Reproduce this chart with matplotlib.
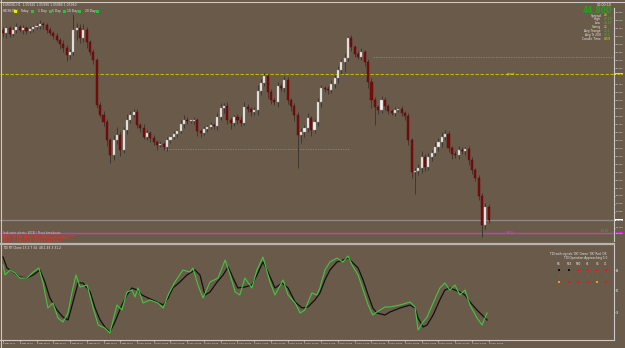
import numpy as np
import matplotlib.pyplot as plt
from matplotlib.lines import Line2D
from matplotlib.patches import Rectangle

W, H = 625, 348
BG = "#6a5a4a"

# hourly candles: closes, wick sizes in ticks of 0.01
closes = [
    46.67, 46.72, 46.66, 46.70, 46.73, 46.70, 46.72, 46.69, 46.71, 46.73,
    46.74, 46.76, 46.75, 46.70, 46.67, 46.64, 46.60, 46.56, 46.52, 46.45,
    46.48, 46.70, 46.72, 46.62, 46.70, 46.58, 46.48, 46.40, 45.95, 45.85,
    45.78, 45.60, 45.45, 45.60, 45.65, 45.50, 45.70, 45.80, 45.85, 45.88,
    45.75, 45.72, 45.63, 45.67, 45.62, 45.58, 45.55, 45.56, 45.53, 45.60,
    45.63, 45.66, 45.69, 45.76, 45.80, 45.79, 45.79, 45.80, 45.69, 45.67,
    45.71, 45.73, 45.75, 45.74, 45.83, 45.92, 45.94, 45.80, 45.77, 45.83,
    45.80, 45.77, 45.93, 45.91, 45.88, 45.90, 46.09, 46.17, 46.24, 46.08,
    46.00, 45.98, 46.14, 46.12, 46.20, 46.00, 45.94, 45.85, 45.65, 45.68,
    45.72, 45.82, 45.70, 45.78, 45.98, 46.12, 46.11, 46.10, 46.16, 46.22,
    46.30, 46.38, 46.42, 46.62, 46.53, 46.46, 46.43, 46.48, 46.38, 46.18,
    46.00, 45.93, 45.90, 46.00, 45.94, 45.89, 45.87, 45.90, 45.91, 45.87,
    45.84, 45.60, 45.28, 45.29, 45.32, 45.43, 45.33, 45.43, 45.47, 45.53,
    45.58, 45.63, 45.66, 45.52, 45.46, 45.45, 45.50, 45.49, 45.51, 45.40,
    45.30, 45.22, 45.04, 44.75, 44.93, 44.80,
]
first_open = 46.70
wick_up = [
    3, 2, 2, 3, 4, 2, 3, 2, 3, 2,
    3, 4, 2, 2, 3, 2, 3, 2, 4, 3,
    3, 16, 5, 4, 6, 3, 2, 3, 2, 3,
    4, 3, 2, 5, 8, 4, 3, 6, 4, 3,
    3, 2, 4, 3, 2, 3, 2, 3, 2, 3,
    2, 3, 2, 4, 5, 3, 2, 3, 2, 2,
    3, 2, 3, 2, 4, 5, 3, 4, 3, 2,
    3, 4, 5, 3, 2, 3, 6, 4, 3, 2,
    3, 2, 4, 3, 4, 3, 2, 3, 3, 4,
    3, 5, 2, 3, 4, 3, 2, 3, 4, 3,
    4, 3, 5, 2, 3, 2, 3, 4, 2, 3,
    4, 3, 2, 4, 3, 2, 2, 3, 2, 3,
    2, 3, 2, 3, 4, 6, 3, 4, 3, 5,
    4, 5, 4, 3, 2, 3, 4, 3, 2, 3,
    3, 2, 3, 3, 4, 3,
]
wick_dn = [
    4, 5, 3, 2, 3, 2, 4, 3, 2, 3,
    2, 3, 4, 3, 2, 3, 2, 5, 4, 6,
    4, 3, 10, 5, 4, 6, 3, 4, 3, 2,
    4, 6, 8, 5, 4, 6, 3, 4, 3, 2,
    3, 4, 2, 3, 4, 3, 5, 2, 3, 4,
    3, 2, 3, 2, 4, 3, 2, 3, 5, 4,
    2, 3, 2, 3, 4, 3, 5, 4, 6, 3,
    4, 3, 2, 3, 4, 3, 5, 4, 3, 6,
    4, 3, 5, 3, 4, 4, 5, 6, 33, 8,
    5, 4, 6, 3, 4, 5, 3, 4, 3, 4,
    5, 4, 10, 3, 4, 3, 2, 3, 4, 6,
    8, 18, 4, 3, 4, 3, 2, 3, 2, 3,
    4, 5, 6, 22, 4, 5, 4, 3, 4, 3,
    4, 5, 3, 4, 5, 3, 4, 3, 4, 5,
    4, 3, 4, 12, 4, 3,
]

# TDI-style oscillator, read at bar positions
fast_x = [0, 0.6, 2.1, 3.6, 5.1, 7.2, 9.0, 10.7, 11.9, 13.4, 14.9, 16.4, 17.9, 19.4,
          20.6, 21.8, 23.0, 25.1, 26.9, 28.4, 30.4, 31.9, 34.0, 35.5, 37.0, 38.5,
          39.4, 40.3, 41.8, 43.9, 46.3, 47.8, 49.3, 51.3, 53.7, 55.8, 56.7, 58.2,
          59.7, 61.8, 64.2, 66.3, 67.8, 69.3, 70.7, 72.2, 74.3, 75.8, 77.6, 79.7,
          81.2, 83.6, 85.1, 87.2, 88.7, 90.1, 92.2, 93.7, 94.6, 96.1, 97.6, 99.7,
          101.5, 103.0, 104.2, 106.0, 107.5, 109.0, 110.4, 111.6, 114.0, 115.5,
          118.5, 121.5, 123.0, 123.9, 125.4, 126.6, 128.4, 130.4, 131.9, 133.4,
          134.9, 136.4, 137.9, 139.4, 141.5, 143.0, 144.5]
fast_v = [75, 65, 70, 67, 62, 62, 68, 72, 58, 32, 37, 22, 18, 27,
          48, 65, 53, 55, 32, 15, 12, 7, 35, 30, 48, 50,
          43, 52, 37, 40, 37, 32, 45, 58, 70, 68, 72, 55,
          42, 58, 62, 80, 65, 48, 45, 62, 52, 70, 83, 58,
          45, 60, 45, 37, 27, 30, 47, 45, 52, 70, 78, 82,
          78, 84, 75, 65, 50, 35, 25, 28, 33, 33,
          35, 38, 33, 10, 18, 23, 37, 52, 57, 50,
          55, 45, 50, 35, 22, 15, 27]
slow_x = [0, 1.2, 3.0, 5.1, 7.2, 9.0, 11.0, 12.5, 14.0, 16.1, 17.9, 19.4, 20.9,
          22.4, 23.9, 26.0, 27.5, 29.0, 30.4, 31.9, 33.4, 35.5, 37.0, 38.5, 40.0,
          41.5, 43.3, 46.0, 47.8, 49.3, 50.7, 52.8, 54.9, 57.3, 58.8, 60.3, 61.8,
          63.9, 65.7, 67.2, 68.7, 70.1, 72.2, 74.3, 75.8, 77.6, 79.1, 81.2, 83.3,
          85.1, 87.2, 89.3, 91.0, 93.1, 94.6, 96.1, 97.6, 99.7, 101.5, 103.0,
          104.2, 106.0, 107.5, 109.0, 110.4, 111.6, 114.0, 115.5, 118.5, 121.5,
          123.0, 123.9, 125.4, 126.6, 128.4, 130.4, 131.9, 133.4, 134.9, 136.4,
          137.9, 139.4, 141.5, 143.0, 144.5]
slow_v = [83, 72, 68, 63, 62, 65, 70, 58, 42, 30, 23, 20, 38,
          57, 57, 48, 32, 20, 13, 8, 18, 35, 45, 52, 50,
          45, 42, 38, 35, 42, 52, 58, 65, 70, 65, 45, 48,
          58, 65, 73, 62, 52, 53, 55, 65, 78, 68, 52, 57,
          52, 38, 32, 33, 40, 47, 60, 70, 78, 80, 82,
          78, 72, 60, 45, 32, 27, 25, 28, 32, 35,
          32, 22, 13, 15, 25, 40, 50, 52, 50, 48,
          45, 38, 30, 25, 20]

time_labels = [
    "8 Mar 2017", "8 Mar 13:00", "8 Mar 18:00", "8 Mar 23:00", "9 Mar 04:00",
    "9 Mar 09:00", "9 Mar 14:00", "9 Mar 19:00", "10 Mar 00:00", "10 Mar 05:00",
    "10 Mar 10:00", "10 Mar 15:00", "10 Mar 20:00", "13 Mar 01:00", "13 Mar 06:00",
    "13 Mar 11:00", "13 Mar 16:00", "13 Mar 21:00", "14 Mar 02:00", "14 Mar 07:00",
    "14 Mar 12:00", "14 Mar 17:00", "14 Mar 22:00", "15 Mar 03:00", "15 Mar 08:00",
    "15 Mar 13:00", "15 Mar 18:00", "15 Mar 23:00", "16 Mar 04:00", "16 Mar 09:00",
]

yellow_level = 46.26
grey_level = 44.80
magenta_level = 44.67
mid_dotted = 45.51
top_dotted = 46.43

fg = "#e8e8e8"


def box(x0, y0, x1, y1):
    return [x0 / W, 1 - y1 / H, (x1 - x0) / W, (y1 - y0) / H]


def ftxt(x, y, s, **kw):
    kw.setdefault("fontsize", 2.6)
    kw.setdefault("color", fg)
    kw.setdefault("va", "center")
    fig.text(x / W, 1 - y / H, s, **kw)


fig = plt.figure(figsize=(W / 100, H / 100), dpi=100, facecolor=BG)

ax = fig.add_axes(box(0, 8, 614, 241), facecolor=BG)
ind = fig.add_axes(box(0, 245, 614, 340), facecolor=BG)
xlim = (-0.9, 182.4)

# candles
n = len(closes)
opens = [first_open] + closes[:-1]
x = np.arange(n)
hi = [max(o, c) + u / 100 for o, c, u in zip(opens, closes, wick_up)]
lo = [min(o, c) - d / 100 for o, c, d in zip(opens, closes, wick_dn)]
ax.vlines(x, lo, hi, color="#3e3833", lw=0.7, zorder=2)
bull = [c >= o for o, c in zip(opens, closes)]
bottoms = [min(o, c) for o, c in zip(opens, closes)]
heights = [max(abs(c - o), 0.006) for o, c in zip(opens, closes)]
ax.bar(x, heights, bottom=bottoms, width=0.62,
       color=["#f2f2f2" if b else "#7a0c0c" for b in bull],
       edgecolor=["#9a9a9a" if b else "#5a0808" for b in bull],
       linewidth=0.3, zorder=3)

ax.axhline(yellow_level, color="#c8b400", lw=0.8, ls=(0, (3, 1.5)), zorder=1)
ax.axhline(grey_level, color="#8a8a8a", lw=0.9, zorder=1)
ax.axhline(magenta_level, color="#c63cc6", lw=1.0, zorder=1)
ax.hlines(mid_dotted, 48.4, 103.6, color="#8a8a8a", lw=0.6, ls=(0, (1.5, 1.5)), zorder=1)
ax.hlines(top_dotted, 110.4, xlim[1], color="#8a8a8a", lw=0.6, ls=(0, (1.5, 1.5)), zorder=1)

ax.set_xlim(*xlim)
ylo, yhi = 47 - 241 / 100, 47 - 8 / 100
ax.set_ylim(ylo, yhi)
ax.set_xticks([])
ax.yaxis.tick_right()
pt = np.arange(44.64, 46.90, 0.08)
# leave out ticks hidden under the level boxes
pt = [p for p in pt if min(abs(p - yellow_level), abs(p - grey_level),
                           abs(p - magenta_level)) > 0.04]
ax.set_yticks(pt)
ax.set_yticklabels(["%.3f" % p for p in pt], fontsize=1.6, color=fg)
ax.tick_params(axis="y", length=1.0, width=0.4, color=fg, pad=0.3)
for s in ["top", "left", "bottom"]:
    ax.spines[s].set_visible(False)
ax.spines["right"].set_color("#c8c8c8")
ax.spines["right"].set_linewidth(0.8)

# level labels on the price scale
for lvl, fc, tc in [(yellow_level, "#e6e600", "#000000"),
                    (grey_level, "#ffffff", "#000000"),
                    (magenta_level, "#d020d0", "#ffffff")]:
    ax.text(1.0025, (lvl - ylo) / (yhi - ylo), "%.3f" % lvl,
            transform=ax.transAxes, fontsize=1.6, color=tc,
            va="center", ha="left", clip_on=False,
            bbox=dict(boxstyle="square,pad=0.12", fc=fc, ec="none"))

ax.text(150.5, yellow_level, "pivot", fontsize=2.4, color="#e6e600", va="center")
ax.text(150.0, magenta_level, "WCB", fontsize=2.4, color="#d040d0", va="center")
ax.text(178.5, magenta_level + 0.02, "0 0", fontsize=3.2, color="#30c030", va="center")

# oscillator panel
ind.plot(slow_x, slow_v, color="#101010", lw=0.9, zorder=2)
ind.plot(fast_x, fast_v, color="#3fc83f", lw=0.8, zorder=3)
ind.set_xlim(*xlim)
ind.set_ylim(0, 95)
ind.yaxis.tick_right()
ind.set_yticks([70, 50, 28])
ind.set_yticklabels(["68", "50", "32"], fontsize=1.8, color=fg)
ind.tick_params(axis="y", length=1.0, width=0.4, color=fg, pad=0.3)
ind.set_xticks(np.arange(0, 5 * len(time_labels), 5))
ind.set_xticklabels(time_labels, fontsize=1.5, color=fg, ha="left")
ind.tick_params(axis="x", length=1.5, width=0.4, color=fg, pad=0.6)
for s in ["top", "left"]:
    ind.spines[s].set_visible(False)
for s in ["right", "bottom"]:
    ind.spines[s].set_color("#c8c8c8")
    ind.spines[s].set_linewidth(0.8)

# frame lines
for (x0, y0, x1, y1, c, lw) in [(0, 1.5, 625, 1.5, "#c8c8c8", 0.8),
                                (0.8, 0, 0.8, 348, "#c8c8c8", 0.8),
                                (0, 243.5, 614, 243.5, "#b8b4ae", 1.6)]:
    fig.add_artist(Line2D([x0 / W, x1 / W], [1 - y0 / H, 1 - y1 / H], color=c, lw=lw))

# texts
ftxt(3, 4.5, "EURUSD,H1  1.05920 1.05990 1.05880 1.05960", fontsize=2.2)
top_items = [(3, "H4(38.8%)", "#e6e600"), (20, "Today", "#30c030"),
             (38, "1 Day", "#30c030"), (52, "5 Day", "#30c030"),
             (67, "10 Day", "#30c030"), (85, "20 Day", "#30c030")]
for xx, s, c in top_items:
    ftxt(xx, 11, s, fontsize=2.2)
    fig.add_artist(Rectangle(((xx + 11) / W, 1 - 12.5 / H), 3 / W, 3 / H,
                             transform=fig.transFigure, fc=c, ec="none"))

ftxt(612, 4.5, "00:00:10", fontsize=2.4, ha="right")
ftxt(612, 10.5, "%.3f" % closes[-1], fontsize=5.5, ha="right", color="#1fa31f",
     fontweight="bold")
info = [("Spread", "23", "#e6e600"), ("High", "47.19", "#30c030"),
        ("Low", "44.67", "#30c030"), ("Swing", "25", "#e6e600"),
        ("Avg Trange", "40.1", "#30c030"), ("Avg Tr 200", "33.1", "#30c030"),
        ("Candle Time", "0:59", "#e6e600")]
for k, (lab, val, c) in enumerate(info):
    yy = 15.5 + 3.9 * k
    ftxt(601, yy, lab, fontsize=2.2, ha="right")
    ftxt(603.5, yy, val, fontsize=2.2, color=c)

ftxt(3, 232.5, "Indicator alerts: WCB / Pivot breakouts", fontsize=2.2, color="#c8c0c8")
ftxt(3, 235.6, "Alert: 16 Mar 08:00 SELL signal  TDI cross down", fontsize=2.2, color="#ff2a2a")
ftxt(3, 238.4, "Alert: 16 Mar 06:00 SELL Price below pivot", fontsize=2.2, color="#ff2a2a")
ftxt(3, 241.2, "Alert: 15 Mar 22:00 WCB broken down", fontsize=2.2, color="#ff2a2a")
ftxt(3, 248, "TDI RT Clone 13 2 7 34  48.1 45.3 31.2", fontsize=2.2)

ftxt(607, 254, "TDI with signals 'OK' Green 'OK' Red 'OK'", fontsize=2.1, ha="right")
ftxt(607, 257.5, "TDI Operation Approaching 5.0", fontsize=2.1, ha="right")
tf = ["M5", "M15", "M30", "H1", "H4", "D1"]
cols = [559, 569, 578, 588, 597, 606]
row2 = ["#101010", "#101010", "#ff1010", "#ff1010", "#ff1010", "#ff1010"]
row4 = ["#f0a000", "#ff1010", "#ff1010", "#ff1010", "#f0a000", "#ff1010"]
for xx, lab, c2, c4 in zip(cols, tf, row2, row4):
    ftxt(xx, 264, lab, fontsize=1.8, ha="center")
    fig.add_artist(Rectangle(((xx - 1.3) / W, 1 - 271.3 / H), 2.6 / W, 2.6 / H,
                             transform=fig.transFigure, fc=c2, ec="none"))
    ftxt(xx, 276, "-", fontsize=2.4, ha="center", color="#9a9a9a")
    fig.add_artist(Rectangle(((xx - 1.3) / W, 1 - 283.3 / H), 2.6 / W, 2.6 / H,
                             transform=fig.transFigure, fc=c4, ec="none"))

fig.savefig("out.png", dpi=100, facecolor=BG)
